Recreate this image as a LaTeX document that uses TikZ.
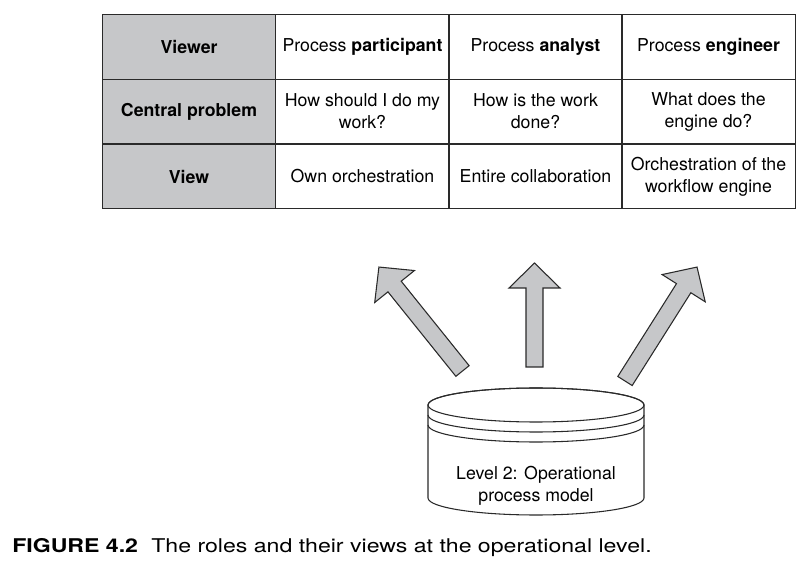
\documentclass[tikz,border=0pt]{standalone}
\usepackage{fontspec}
\setmainfont{TeX Gyre Heros}
\newfontfamily\capfont[FakeStretch=1.22]{TeX Gyre Heros}
\definecolor{cellgray}{HTML}{C6C7C9}
\definecolor{linegray}{HTML}{2A2A2A}
\tikzset{
  cell/.style={draw=linegray, line width=0.8pt, minimum width=130pt, minimum height=48.5pt,
    inner sep=0pt, align=center, font=\fontsize{13.3}{16.5}\selectfont},
  headcell/.style={cell, fill=cellgray, font=\fontsize{13.3}{16.5}\selectfont\bfseries},
  fatarrow/.style={draw=linegray, fill=cellgray, line width=0.8pt, line join=miter},
  cylline/.style={draw=linegray, line width=0.8pt},
}
\newcommand\fatarrow[5]{% name, x, y, angle, length
  \coordinate (#1) at (#2,#3);
  \begin{scope}[shift={(#1)}, rotate=#4]
    \filldraw[fatarrow] (-8.5,0) -- (-8.5,{-#5+25}) -- (-25.5,{-#5+25}) -- (0,-#5)
      -- (25.5,{-#5+25}) -- (8.5,{-#5+25}) -- (8.5,0) -- cycle;
  \end{scope}}
\begin{document}
\begin{tikzpicture}[x=0.75pt,y=-0.75pt]
\useasboundingbox (0,0) rectangle (808,563);
% table
\node[headcell] (r1c0) at (189,47) {Viewer};
\node[headcell] (r2c0) at (189,111.5) {Central problem};
\node[headcell] (r3c0) at (189,176.5) {View};
\node[cell] (r1c1) at (362.5,47) {Process \textbf{participant}};
\node[cell] (r1c2) at (535.5,47) {Process \textbf{analyst}};
\node[cell] (r1c3) at (708.5,47) {Process \textbf{engineer}};
\node[cell] (r2c1) at (362.5,111.5) {How should I do my\\work?};
\node[cell] (r2c2) at (535.5,111.5) {How is the work\\done?};
\node[cell] (r2c3) at (708.5,111.5) {What does the\\engine do?};
\node[cell] (r3c1) at (362.5,176.5) {Own orchestration};
\node[cell] (r3c2) at (535.5,176.5) {Entire collaboration};
\node[cell] (r3c3) at (708.5,176.5) {Orchestration of the\\workflow engine};
% arrows
\fatarrow{aleft}{462.5}{371}{38.8}{133.4}
\fatarrow{amid}{534.5}{367}{0}{104}
\fatarrow{aright}{625}{381}{-32.3}{134.8}
% cylinder
\coordinate (cyltop) at (536,405);
\filldraw[cylline, fill=white] (428,405) -- (428,498)
  arc[start angle=180, end angle=360, x radius=81pt, y radius=12.75pt]
  -- (644,405)
  arc[start angle=0, end angle=180, x radius=81pt, y radius=12.75pt] -- cycle;
\draw[cylline] (cyltop) ellipse[x radius=81pt, y radius=12.75pt];
\draw[cylline] (428,415) arc[start angle=180, end angle=360, x radius=81pt, y radius=12.75pt];
\draw[cylline] (428,425) arc[start angle=180, end angle=360, x radius=81pt, y radius=12.75pt];
\node[align=center, font=\fontsize{13.3}{16.5}\selectfont, inner sep=0pt] (cyltext) at (536,486)
  {Level 2: Operational\\process model};
% caption
\node[anchor=west, inner sep=0pt, font=\capfont\fontsize{14.2}{16}\selectfont] (caption) at (12,548)
  {\textbf{FIGURE 4.2}\hspace{0.7em}The roles and their views at the operational level.};
\end{tikzpicture}
\end{document}
